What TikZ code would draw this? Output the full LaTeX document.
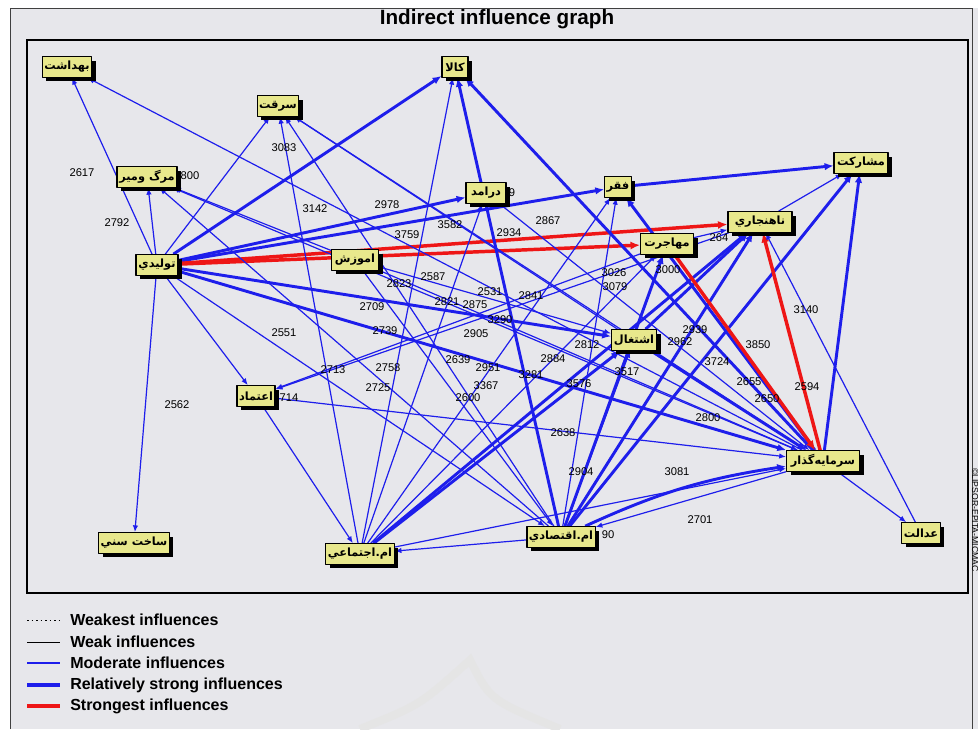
\documentclass[tikz,border=0pt]{standalone}
\usepackage{fontspec}
\setmainfont{Liberation Sans}
\newfontfamily\arabicfont[Script=Arabic]{DejaVu Sans}
\TeXXeTstate=1
\usetikzlibrary{arrows.meta,shadows}
\definecolor{infblue}{RGB}{30,30,235}
\definecolor{infred}{RGB}{238,22,22}
\definecolor{boxyellow}{RGB}{232,232,140}
\definecolor{panel}{RGB}{231,231,235}
\pgfdeclarelayer{bg}
\pgfsetlayers{bg,main}
\tikzset{
	fac/.style={draw=black,line width=0.8pt,fill=boxyellow,inner xsep=1.5pt,inner ysep=1pt,minimum height=15.5pt,
		font=\arabicfont\bfseries\fontsize{8.5}{9}\selectfont,
		drop shadow={shadow xshift=3pt,shadow yshift=-3pt,opacity=1,fill=black}},
	wd/.style={minimum width=0.75pt*#1},
	mod/.style={infblue,line width=0.9pt,->},
	rs/.style={infblue,line width=2.2pt,->},
	st/.style={infred,line width=2.6pt,->},
	val/.style={font=\fontsize{8.4}{9}\selectfont,inner sep=0pt},
	lgd/.style={anchor=west,font=\bfseries\fontsize{12}{13}\selectfont,inner sep=0pt},
}
\begin{document}
\begin{tikzpicture}[x=0.75pt,y=-0.75pt,>={Latex[length=4pt 1.2,width=3pt 1.2]},line join=round]
	\useasboundingbox (0,0) rectangle (978,729);
	% factors
	\node[fac,wd=49] (bh) at (67,67) {\beginR بهداشت\endR};
	\node[fac,wd=26] (kala) at (455,67) {\beginR کالا\endR};
	\node[fac,wd=40] (serghat) at (278,106) {\beginR سرقت\endR};
	\node[fac,wd=60] (marg) at (147,177) {\beginR مرگ ومير\endR};
	\node[fac,wd=40] (daramad) at (486,193) {\beginR درامد\endR};
	\node[fac,wd=23] (faghr) at (618,187) {\beginR فقر\endR};
	\node[fac,wd=54] (mosharekat) at (861,163) {\beginR مشارکت\endR};
	\node[fac,wd=64] (nahanjari) at (760,222) {\beginR ناهنجاري\endR};
	\node[fac,wd=53] (mohajerat) at (667,244) {\beginR مهاجرت\endR};
	\node[fac,wd=42] (tolidi) at (157,265) {\beginR توليدي\endR};
	\node[fac,wd=47] (amoozesh) at (355,260) {\beginR اموزش\endR};
	\node[fac,wd=45] (eshteghal) at (634,340) {\beginR اشتغال\endR};
	\node[fac,wd=38] (etemad) at (256,396) {\beginR اعتماد\endR};
	\node[fac,wd=73] (sarmaye) at (823,461) {\beginR سرمايه‌گذار\endR};
	\node[fac,wd=68] (sakht) at (134,543) {\beginR ساخت سني\endR};
	\node[fac,wd=66] (ejtemai) at (360,554) {\beginR ام.اجتماعي\endR};
	\node[fac,wd=68] (eghtesadi) at (561,537) {\beginR ام.اقتصادي\endR};
	\node[fac,wd=38] (edalat) at (921,533) {\beginR عدالت\endR};
	\begin{pgfonlayer}{bg}
	\fill[white] (0,0) rectangle (978,729);
	\fill[panel] (10,8) rectangle (978,729);
	\draw[black!75,line width=0.7pt] (10,729)--(10,8)--(972,8)--(972,729);
	\draw[black,line width=0.9pt] (27,40) rectangle (968,593);
	\node[font=\bfseries\fontsize{15.5}{17}\selectfont] (title) at (497,19) {Indirect influence graph};
	\node[rotate=-90,font=\fontsize{6.5}{7}\selectfont] (micmac) at (975,520) {\textcopyright LIPSOR-EPITA-MICMAC};
	% watermark
	\draw[black!10,line width=6pt] (360,729) .. controls (420,705) .. (470,660) .. controls (490,700) .. (560,729);
	% influences
	\path[mod] (tolidi) edge (bh) edge (marg) edge (serghat) edge (etemad) edge (sakht) edge (eghtesadi);
	\path[rs] (tolidi) edge (kala) edge (daramad) edge (faghr) edge (eshteghal) edge (sarmaye);
	\path[st] (tolidi) edge (nahanjari) edge (mohajerat);
	\path[mod] (amoozesh) edge (marg) edge (eshteghal) edge (sarmaye) edge (eghtesadi);
	\path[mod] (ejtemai) edge (kala) edge (serghat) edge (daramad) edge (faghr) edge (mohajerat) edge (sarmaye);
	\path[rs] (ejtemai) edge (nahanjari) edge (eshteghal);
	\path[mod] (eghtesadi) edge (serghat) edge (marg) edge (faghr) edge (eshteghal) edge (ejtemai);
	\path[rs] (eghtesadi) edge (kala) edge (nahanjari) edge (mosharekat) edge (mohajerat) edge[bend left=8] (sarmaye);
	\path[rs] (sarmaye) edge (kala) edge (faghr) edge (mosharekat);
	\path[st] (sarmaye) edge (nahanjari);
	\path[mod] (sarmaye) edge (marg) edge (bh) edge (eghtesadi) edge (edalat);
	\path[mod] (eshteghal) edge (serghat);
	\path[rs] (eshteghal) edge (sarmaye) edge (nahanjari);
	\path[rs] (faghr) edge (mosharekat);
	\path[mod] (faghr) edge (sarmaye);
	\path[mod] (daramad) edge (sarmaye);
	\path[mod] (serghat) edge (sarmaye);
	\path[mod] (etemad) edge (sarmaye);
	\path[mod] (nahanjari) edge (mosharekat) edge (etemad);
	\path[mod] (mohajerat) edge (nahanjari) edge (etemad);
	\path[st] (mohajerat) edge (sarmaye);
	\path[mod] (edalat) edge (nahanjari);
	\path[mod] (etemad) edge (ejtemai);
	% values
	\path (82,173) node[val] (n2617) {2617} (190,176) node[val] (n800) {800} (117,223) node[val] (n2792) {2792}
	(284,148) node[val] (n3083) {3083} (315,209) node[val] (n3142) {3142} (387,205) node[val] (n2978) {2978}
	(407,235) node[val] (n3759) {3759} (450,225) node[val] (n3582) {3582} (512,193) node[val] (n9) {9}
	(509,233) node[val] (n2934) {2934} (548,221) node[val] (n2867) {2867} (399,284) node[val] (n2823) {2823}
	(433,277) node[val] (n2587) {2587} (490,292) node[val] (n2531) {2531} (531,296) node[val] (n2841) {2841}
	(447,302) node[val] (n2821) {2821} (475,305) node[val] (n2875) {2875} (372,307) node[val] (n2709) {2709}
	(500,320) node[val] (n3290) {3290} (385,331) node[val] (n2739) {2739} (476,334) node[val] (n2905) {2905}
	(284,333) node[val] (n2551) {2551} (614,273) node[val] (n3026) {3026} (615,287) node[val] (n3079) {3079}
	(668,270) node[val] (n3000) {3000} (719,238) node[val] (n264) {264} (587,345) node[val] (n2812) {2812}
	(695,330) node[val] (n2939) {2939} (680,342) node[val] (n2962) {2962} (553,359) node[val] (n2884) {2884}
	(531,375) node[val] (n3281) {3281} (579,384) node[val] (n3576) {3576} (627,372) node[val] (n3517) {3517}
	(717,362) node[val] (n3724) {3724} (758,345) node[val] (n3850) {3850} (806,310) node[val] (n3140) {3140}
	(749,382) node[val] (n2655) {2655} (807,387) node[val] (n2594) {2594} (767,399) node[val] (n2650) {2650}
	(708,418) node[val] (n2800) {2800} (333,370) node[val] (n2713) {2713} (388,368) node[val] (n2758) {2758}
	(378,388) node[val] (n2725) {2725} (458,360) node[val] (n2639) {2639} (488,368) node[val] (n2951) {2951}
	(486,386) node[val] (n3367) {3367} (468,398) node[val] (n2600) {2600} (289,398) node[val] (n714) {714}
	(177,405) node[val] (n2562) {2562} (563,433) node[val] (n2638) {2638} (581,472) node[val] (n2904) {2904}
	(677,472) node[val] (n3081) {3081} (700,520) node[val] (n2701) {2701} (608,535) node[val] (n90) {90};
	\end{pgfonlayer}
	% legend
	\draw[black,line width=0.7pt,dash pattern=on 1.2pt off 2.2pt] (27,620)--(60,620);
	\draw[black,line width=0.7pt] (27,642)--(60,642);
	\draw[infblue,line width=0.9pt] (27,663)--(60,663);
	\draw[infblue,line width=2.6pt] (27,685)--(60,685);
	\draw[infred,line width=2.6pt] (27,706)--(60,706);
	\node[lgd] (lg1) at (70,620) {Weakest influences};
	\node[lgd] (lg2) at (70,642) {Weak influences};
	\node[lgd] (lg3) at (70,663) {Moderate influences};
	\node[lgd] (lg4) at (70,685) {Relatively strong influences};
	\node[lgd] (lg5) at (70,706) {Strongest influences};
\end{tikzpicture}
\end{document}
